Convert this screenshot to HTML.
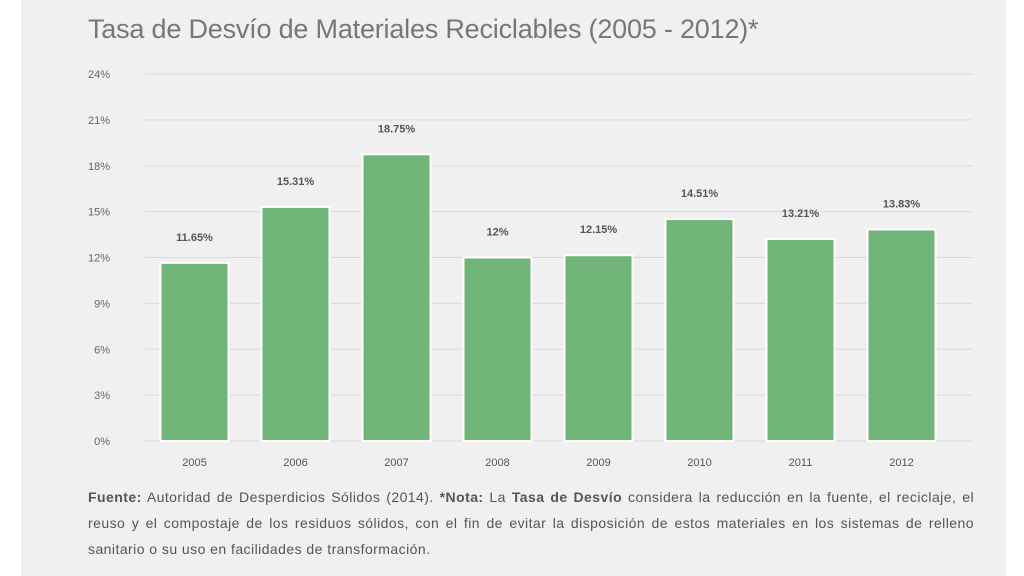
<!DOCTYPE html>
<html><head><meta charset="utf-8"><style>
body{margin:0;width:1024px;height:576px;background:#fff;overflow:hidden;font-family:"Liberation Sans",sans-serif}
#panel{position:absolute;left:21px;top:0;width:985px;height:576px;background:#f0f0f0}
#title{position:absolute;left:88px;top:14px;font-size:27px;color:#777;font-weight:300;letter-spacing:-0.2px}
#note{position:absolute;left:88px;top:484px;width:886px;font-size:14px;line-height:26px;color:#555;text-align:justify;letter-spacing:0.45px}
#note b{color:#555}
svg{position:absolute;left:0;top:0}
</style></head><body>
<div id="panel"></div>
<div id="title">Tasa de Desvío de Materiales Reciclables (2005 - 2012)*</div>
<svg id="chart" width="1024" height="576"></svg>
<div id="note"><b>Fuente:</b> Autoridad de Desperdicios Sólidos (2014). <b>*Nota:</b> La <b>Tasa de Desvío</b> considera la reducción en la fuente, el reciclaje, el reuso y el compostaje de los residuos sólidos, con el fin de evitar la disposición de estos materiales en los sistemas de relleno sanitario o su uso en facilidades de transformación.</div>
<script>
const categories=["2005","2006","2007","2008","2009","2010","2011","2012"];
const values=[11.65,15.31,18.75,12,12.15,14.51,13.21,13.83];
const valueLabels=["11.65%","15.31%","18.75%","12%","12.15%","14.51%","13.21%","13.83%"];
const yTicks=[0,3,6,9,12,15,18,21,24];
const NS="http://www.w3.org/2000/svg";
const svg=document.getElementById('chart');
const y0=441,y1=74,yMax=24,x0=144,step=101;
const y=v=>y0-(v/yMax)*(y0-y1);
const x=i=>x0+step*(i+0.5);
function mk(t,a){const e=document.createElementNS(NS,t);for(const k in a)e.setAttribute(k,a[k]);svg.appendChild(e);return e;}
yTicks.forEach(t=>{
 const l=mk('line',{x1:145,x2:972,y1:y(t),y2:y(t),stroke:'#d9d9d9','stroke-width':1});
 
 
 const tx=mk('text',{x:110,y:y(t)+4,'text-anchor':'end','font-size':11,fill:'#666'});
 tx.textContent=t+'%';
 
 
});
categories.forEach((c,i)=>{
 const w=68,cx=x(i);
 const r=mk('rect',{x:cx-w/2,y:y(values[i]),width:w,height:y0-y(values[i]),fill:'#70b477',stroke:'#fff','stroke-width':2});
 
 
 const vl=mk('text',{x:cx,y:y(values[i])-22,'text-anchor':'middle','font-size':11,'font-weight':'bold',fill:'#555'});
 vl.textContent=valueLabels[i];
 
 
 const xl=mk('text',{x:cx,y:466,'text-anchor':'middle','font-size':11,fill:'#555'});
 xl.textContent=c;
 
 
});
</script>
</body></html>
